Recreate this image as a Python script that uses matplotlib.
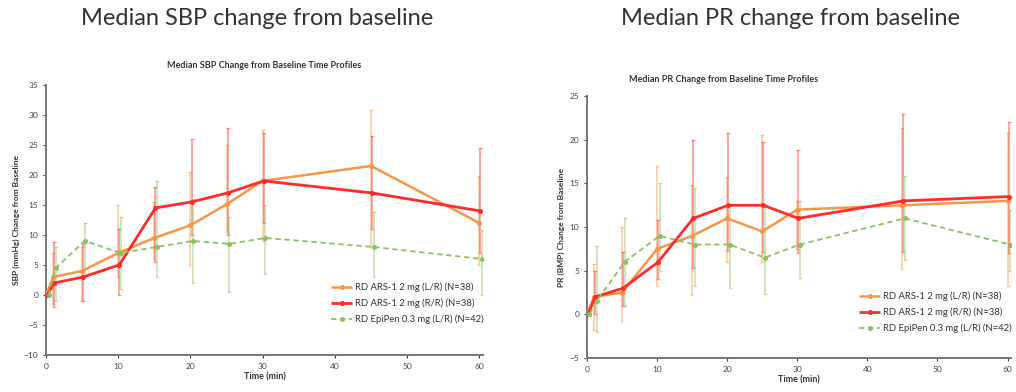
import matplotlib
matplotlib.use("Agg")
import matplotlib.pyplot as plt
import numpy as np

plt.rcParams['font.family'] = ['Lato', 'DejaVu Sans']

times = [0, 1, 5, 10, 15, 20, 25, 30, 45, 60]
labels = ["RD ARS-1 2 mg (L/R) (N=38)", "RD ARS-1 2 mg (R/R) (N=38)", "RD EpiPen 0.3 mg (L/R) (N=42)"]

# SBP
sbp_lr = [0, 3.0, 4.0, 7.0, 9.5, 11.6, 15.1, 19.0, 21.5, 12.0]
sbp_lr_lo = [0, -1.5, -1.0, 3.0, 6.0, 5.0, 10.5, 9.0, 8.0, 5.0]
sbp_lr_hi = [0, 7.0, 8.0, 15.0, 15.5, 20.5, 25.0, 27.5, 30.8, 19.8]
sbp_rr = [0, 2.0, 3.0, 5.0, 14.5, 15.5, 17.0, 19.0, 17.0, 14.0]
sbp_rr_lo = [0, -2.0, -1.0, 0.0, 5.5, 10.0, 10.0, 12.0, 11.0, 7.0]
sbp_rr_hi = [0, 8.8, 8.5, 11.0, 18.0, 26.0, 27.8, 27.0, 26.5, 24.5]
sbp_ep = [0, 4.5, 9.0, 7.0, 8.0, 9.0, 8.5, 9.5, 8.0, 6.0]
sbp_ep_lo = [0, -1.0, 3.0, 1.0, 3.0, 2.0, 0.5, 3.5, 3.0, 0.0]
sbp_ep_hi = [0, 8.0, 12.0, 13.0, 19.0, 16.0, 13.0, 15.0, 13.8, 10.8]

# PR
pr_lr = [0, 2.0, 2.5, 7.5, 9.0, 11.0, 9.5, 12.0, 12.5, 13.0]
pr_lr_lo = [0, -1.8, -0.8, 3.2, 2.2, 6.0, 6.0, 7.5, 5.2, 3.2]
pr_lr_hi = [0, 5.8, 10.0, 17.0, 14.8, 15.7, 20.5, 13.0, 21.3, 20.8]
pr_rr = [0, 2.0, 3.0, 6.0, 11.0, 12.5, 12.5, 11.0, 13.0, 13.5]
pr_rr_lo = [0, 0.0, 1.0, 4.0, 5.3, 7.3, 7.2, 7.0, 7.2, 7.0]
pr_rr_hi = [0, 5.0, 7.1, 10.8, 20.0, 20.8, 19.8, 18.8, 23.0, 22.0]
pr_ep = [0, 1.5, 6.0, 9.0, 8.0, 8.0, 6.5, 8.0, 11.0, 8.0]
pr_ep_lo = [0, -2.0, 1.0, 5.0, 3.3, 3.0, 2.3, 4.2, 6.2, 5.0]
pr_ep_hi = [0, 7.8, 11.0, 15.0, 14.5, 12.5, 12.5, 13.0, 15.8, 12.0]

c_or = '#F79646'
c_rd = '#FF2A2A'
c_gr = '#8DC060'

fig = plt.figure(figsize=(10.16, 3.92), dpi=100)
fig.patch.set_facecolor('white')

fig.text(0.253, 0.952, "Median SBP change from baseline", ha='center', va='center',
         fontsize=17, color='#333333')
fig.text(0.778, 0.952, "Median PR change from baseline", ha='center', va='center',
         fontsize=17, color='#333333')

def draw(ax, series, ylim, yticks, ylabel, legend_anchor):
    t = np.array(times, dtype=float)
    styles = [
        (c_or, (0, ()), 1.8, 0.0),
        (c_rd, (0, ()), 2.0, 0.15),
        (c_gr, (0, (3, 2)), 1.3, 0.35),
    ]
    for (m, lo, hi), (col, ls, lw, dx), lab in zip(series, styles, labels):
        m = np.array(m); lo = np.array(lo); hi = np.array(hi)
        x = t + dx
        ax.errorbar(x, m, yerr=[m - lo, hi - m], fmt='none', ecolor=col,
                    alpha=0.45, elinewidth=1.3, capsize=1.2, zorder=2)
        ax.plot(x, m, color=col, ls=ls, lw=lw, marker='o', ms=2.6, label=lab, zorder=3)
    ax.set_xlim(0, 60.5)
    ax.set_ylim(*ylim)
    ax.set_xticks([0, 10, 20, 30, 40, 50, 60])
    ax.set_yticks(yticks)
    for s in ['top', 'right']:
        ax.spines[s].set_visible(False)
    for s in ['left', 'bottom']:
        ax.spines[s].set_color('#777777')
        ax.spines[s].set_linewidth(1.4)
    ax.tick_params(labelsize=6, colors='#444444', length=2, width=0.8)
    ax.set_xlabel("Time (min)", fontsize=6.5, fontweight='bold', color='#333333', labelpad=2)
    ax.set_ylabel(ylabel, fontsize=6, fontweight='bold', color='#333333', labelpad=3)
    leg = ax.legend(loc='lower right', bbox_to_anchor=legend_anchor, frameon=False,
                    fontsize=6.8, handlelength=2.2, handletextpad=0.3, labelspacing=0.7,
                    borderaxespad=0.0)
    for txt in leg.get_texts():
        txt.set_color('#333333')

ax1 = fig.add_axes([0.0453, 0.0944, 0.430, 0.689])
draw(ax1, [(sbp_lr, sbp_lr_lo, sbp_lr_hi), (sbp_rr, sbp_rr_lo, sbp_rr_hi), (sbp_ep, sbp_ep_lo, sbp_ep_hi)],
     (-10, 35), list(range(-10, 36, 5)), "SBP (mmHg) Change from Baseline", (1.01, 0.1))
ax1.set_title("Median SBP Change from Baseline Time Profiles", fontsize=6.5, fontweight='bold',
              color='#333333', pad=12)

ax2 = fig.add_axes([0.5778, 0.0867, 0.4173, 0.668])
draw(ax2, [(pr_lr, pr_lr_lo, pr_lr_hi), (pr_rr, pr_rr_lo, pr_rr_hi), (pr_ep, pr_ep_lo, pr_ep_hi)],
     (-5, 25), list(range(-5, 26, 5)), "PR (BMP) Change from Baseline", (1.01, 0.08))
fig.text(0.712, 0.798, "Median PR Change from Baseline Time Profiles", ha='center', va='center',
         fontsize=6.5, fontweight='bold', color='#333333')

fig.savefig("out.png", dpi=100, facecolor='white')
